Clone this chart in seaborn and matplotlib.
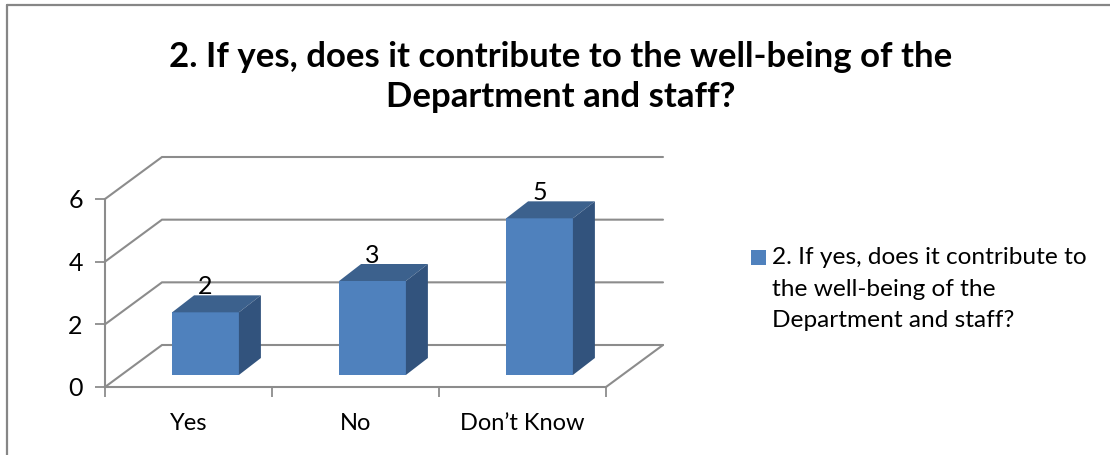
# 3d looking column chart, drawn on two axes (walls behind, bars in front)
import matplotlib.pyplot as plt
import matplotlib.patches as patches
import seaborn as sns

categories = ['Yes', 'No', 'Don\u2019t Know']
values = [2, 3, 5]
y_ticks = [0, 2, 4, 6]
title = '2. If yes, does it contribute to the well-being of the\nDepartment and staff?'
legend_label = '2. If yes, does it contribute to\nthe well-being of the\nDepartment and staff?'

W, H = 1110, 455
FRONT = '#4f81bd'
TOP = '#3c618d'
SIDE = '#32537d'
GRID = '#8c8c8c'

sns.set_theme(style='white')
plt.rcParams['font.family'] = ['Lato', 'DejaVu Sans']


def px_axes(fig, left, right, top, bottom):
    # axes placed by pixel box
    return fig.add_axes([left / W, 1 - bottom / H, (right - left) / W, (bottom - top) / H])


fig = plt.figure(figsize=(W / 100, H / 100), dpi=100)

# chart frame, only left and top are inside the picture
fig.add_artist(plt.Line2D([7 / W, 7 / W], [0, 1 - 4.5 / H], color='#868686', lw=1.6))
fig.add_artist(plt.Line2D([7 / W, 1], [1 - 4.5 / H, 1 - 4.5 / H], color='#868686', lw=1.6))

# walls: front plane 105-606 px, 6 at 199 px, 0 at 387 px
wall = px_axes(fig, 105, 606, 199, 387)
wall.set_xlim(-0.5, 2.5)
wall.set_ylim(0, 6)
wall.patch.set_alpha(0)
depth_x = 57 / 167
depth_y = 42 / (188 / 6)
for t in y_ticks:
    wall.plot([-0.5, -0.5 + depth_x, 2.5 + depth_x], [t, t + depth_y, t + depth_y],
              color=GRID, lw=1.5, clip_on=False, solid_joinstyle='miter')
wall.plot([2.5, 2.5 + depth_x], [0, depth_y], color=GRID, lw=1.5, clip_on=False)
sns.despine(ax=wall, top=True, right=True)
for side in ['left', 'bottom']:
    wall.spines[side].set_color(GRID)
    wall.spines[side].set_linewidth(1.5)
wall.set_yticks(y_ticks)
wall.set_xticks([-0.5, 0.5, 1.5, 2.5])
wall.set_xticklabels([])
wall.tick_params(axis='both', length=7, width=1.3, color=GRID, left=True, bottom=True,
                 labelsize=18, labelcolor='black', pad=9)
for t, name in zip(range(len(categories)), categories):
    wall.text(t, -1.17, name, ha='center', va='center', fontsize=17, color='black')

# bars: own axes pushed back into the floor, 0 at 375 px
ax = px_axes(fig, 122, 623, 187, 375)
ax.set_zorder(2)
sns.barplot(x=categories, y=values, color=FRONT, saturation=1, width=0.4, linewidth=0, ax=ax)
ax.set_xlim(-0.5, 2.5)
ax.set_ylim(0, 6)
ax.patch.set_alpha(0)
ax.axis('off')

dx = 22 / 167
dy = 17 / (188 / 6)
for bar, val in zip(list(ax.patches), values):
    x0 = bar.get_x()
    x1 = x0 + bar.get_width()
    ax.add_patch(patches.Polygon([(x0, val), (x1, val), (x1 + dx, val + dy), (x0 + dx, val + dy)],
                                 fc=TOP, ec='none', clip_on=False))
    ax.add_patch(patches.Polygon([(x1, 0), (x1 + dx, dy), (x1 + dx, val + dy), (x1, val)],
                                 fc=SIDE, ec='none', clip_on=False))
    ax.annotate(str(val), (x0 + bar.get_width() / 2, val), xytext=(0, 18.5), textcoords='offset points',
                ha='center', va='center', fontsize=18, color='black', annotation_clip=False)

fig.text(561 / W, 1 - 77 / H, title, ha='center', va='center', fontsize=25, fontweight='bold',
         color='black', linespacing=1.32)

# legend
fig.add_artist(patches.Rectangle((751 / W, 1 - 265 / H), 15 / W, 15 / H, fc=FRONT, ec='none',
                                 transform=fig.transFigure))
fig.text(772 / W, 1 - 289 / H, legend_label, ha='left', va='center', fontsize=17.6, color='black',
         linespacing=1.6)

fig.savefig('out.png', dpi=100)
